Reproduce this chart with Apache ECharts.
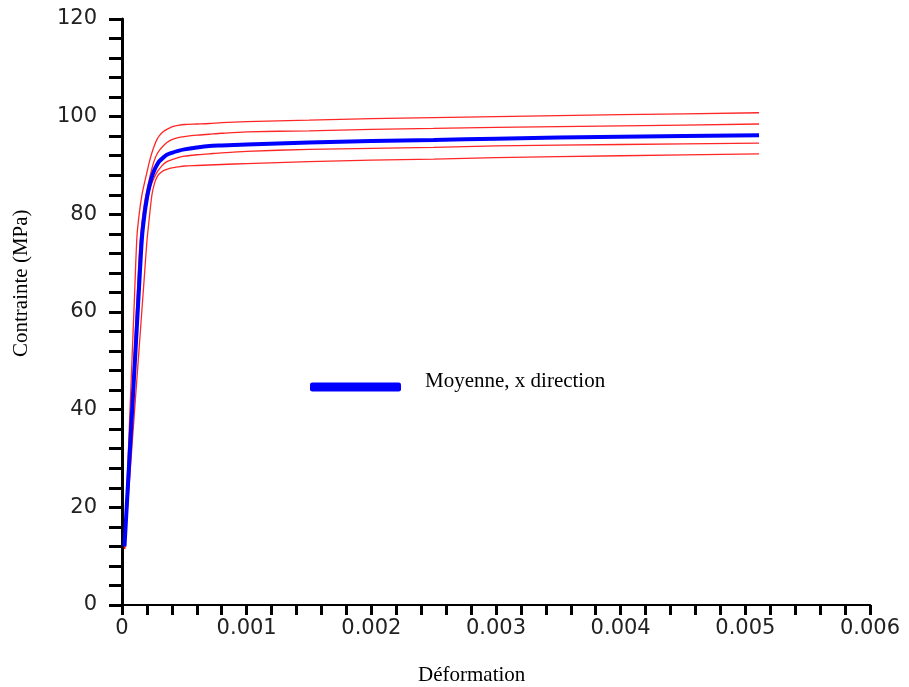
<!DOCTYPE html>
<html>
<head>
<meta charset="utf-8">
<script src="https://cdn.jsdelivr.net/npm/echarts@6/dist/echarts.min.js"></script>
<style>html,body{margin:0;padding:0;background:#fff;}#c{width:909px;height:687px;}</style>
</head>
<body>
<div id="c"></div>
<script>
const strain = [0.00002, 0.00006, 0.0001, 0.00012, 0.00014, 0.00016, 0.00018, 0.0002, 0.00022, 0.00024, 0.00026, 0.00028, 0.0003, 0.00033, 0.00036, 0.0004, 0.00045, 0.0005, 0.0006, 0.0007, 0.0008, 0.001, 0.0015, 0.002, 0.0025, 0.003, 0.004, 0.00511];
const red1 = [11.5, 37.3, 63, 75.5, 80.5, 84, 86.4, 88.6, 90.8, 92.6, 94.1, 95.3, 96.1, 96.9, 97.4, 97.9, 98.2, 98.4, 98.5, 98.6, 98.8, 99.0, 99.3, 99.6, 99.8, 100.0, 100.4, 100.8];
const red2 = [11.5, 31.9, 52.3, 62.5, 72.7, 78.4, 82.3, 85.0, 87.3, 89.4, 91.1, 92.3, 93.1, 94.0, 94.7, 95.3, 95.7, 95.9, 96.2, 96.4, 96.6, 96.9, 97.1, 97.4, 97.6, 97.8, 98.1, 98.5];
const mean = [12, 30.2, 48.3, 57.4, 66.5, 75.2, 79.9, 83.3, 85.8, 87.7, 89.1, 90.1, 90.9, 91.6, 92.2, 92.6, 93.0, 93.3, 93.7, 94.0, 94.1, 94.3, 94.7, 95.0, 95.2, 95.5, 95.9, 96.2];
const red3 = [11.5, 29.1, 46.7, 55.5, 64.3, 73.1, 79.5, 82.5, 84.9, 86.4, 87.6, 88.6, 89.3, 90.2, 90.8, 91.2, 91.6, 91.9, 92.2, 92.4, 92.6, 92.9, 93.3, 93.5, 93.7, 94.0, 94.3, 94.6];
const red4 = [11.5, 25.5, 39.5, 46.5, 53.5, 60.5, 67.5, 74.5, 79.5, 84.0, 86.3, 87.6, 88.3, 88.9, 89.2, 89.5, 89.7, 89.9, 90.0, 90.1, 90.2, 90.4, 90.8, 91.1, 91.3, 91.6, 92.0, 92.4];
const xTicks = [0, 0.001, 0.002, 0.003, 0.004, 0.005, 0.006];
const yTicks = [0, 20, 40, 60, 80, 100, 120];
const legendLabel = 'Moyenne, x direction';
const xName = 'Déformation';
const yName = 'Contrainte (MPa)';

const pair = (ys) => strain.map((x, i) => [x, ys[i]]);
const redStyle = {color: 'rgba(255,0,0,0.85)', width: 1.3};
const common = {type: 'line', showSymbol: false, smooth: 0.25};

const chart = echarts.init(document.getElementById('c'));
chart.setOption({
  animation: false,
  backgroundColor: '#fff',
  grid: {left: 122, right: 39, top: 19, bottom: 82},
  legend: {
    data: [legendLabel],
    left: 305, top: 366,
    icon: 'roundRect', itemWidth: 91, itemHeight: 9, itemGap: 10,
    formatter: '{t|{name}}',
    textStyle: {
      fontFamily: 'Liberation Serif', fontSize: 21, color: '#000',
      rich: {t: {fontFamily: 'Liberation Serif', fontSize: 21, color: '#000', padding: [0, 0, 11, 19]}}
    }
  },
  xAxis: [{
    type: 'value', min: xTicks[0], max: xTicks[xTicks.length - 1], interval: 0.001,
    axisLine: {lineStyle: {color: '#777', width: 2}},
    axisTick: {show: true, inside: false, length: 10, lineStyle: {color: '#000', width: 3}},
    minorTick: {show: true, splitNumber: 5, length: 10, lineStyle: {color: '#000', width: 3}},
    splitLine: {show: false},
    axisLabel: {fontFamily: 'DejaVu Sans', fontSize: 21, color: '#222', margin: 13,
      formatter: v => (v === 0 ? '0' : v.toFixed(3))}
  }, {
    type: 'value', position: 'top', min: 0, max: 0.006,
    axisLine: {show: true, lineStyle: {color: '#000', width: 2}},
    axisTick: {show: false}, axisLabel: {show: false}, splitLine: {show: false}
  }],
  yAxis: [{
    type: 'value', min: yTicks[0], max: yTicks[yTicks.length - 1], interval: 20,
    axisLine: {show: true, lineStyle: {color: '#000', width: 3}},
    axisTick: {show: true, inside: false, length: 13, lineStyle: {color: '#000', width: 3}},
    minorTick: {show: true, splitNumber: 5, length: 13, lineStyle: {color: '#000', width: 3}},
    splitLine: {show: false},
    axisLabel: {fontFamily: 'DejaVu Sans', fontSize: 21, color: '#222', margin: 25}
  }, {
    type: 'value', position: 'right', min: 0, max: 120,
    axisLine: {show: true, lineStyle: {color: '#000', width: 2}},
    axisTick: {show: false}, axisLabel: {show: false}, splitLine: {show: false}
  }],
  graphic: [
    {type: 'text', left: 418, top: 665, style: {text: xName, font: '21px "Liberation Serif"', fill: '#000'}},
    {type: 'text', x: 11, y: 357, rotation: Math.PI / 2, style: {text: yName, font: '21px "Liberation Serif"', fill: '#000'}}
  ],
  series: [
    Object.assign({name: 'r1', data: pair(red1), lineStyle: redStyle, z: 2}, common),
    Object.assign({name: 'r2', data: pair(red2), lineStyle: redStyle, z: 2}, common),
    Object.assign({name: 'r3', data: pair(red3), lineStyle: redStyle, z: 2}, common),
    Object.assign({name: 'r4', data: pair(red4), lineStyle: redStyle, z: 2}, common),
    Object.assign({name: legendLabel, data: pair(mean), color: '#0000ff',
      lineStyle: {color: '#0000ff', width: 4}, z: 3}, common)
  ]
});
</script>
</body>
</html>
